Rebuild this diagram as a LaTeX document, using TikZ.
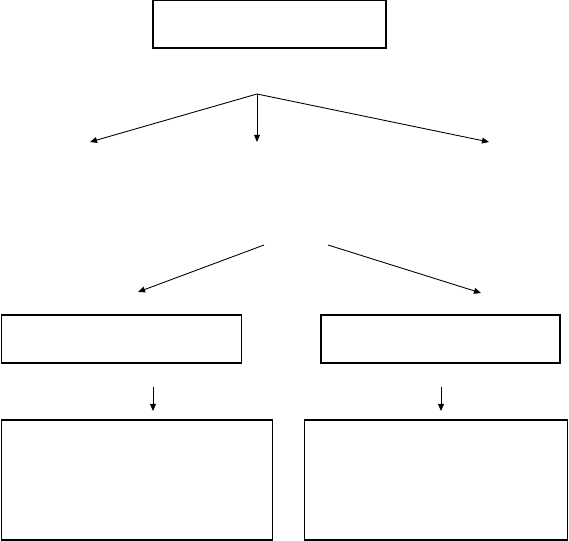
\documentclass[tikz,border=0pt]{standalone}
\usepackage{tikz}
\usetikzlibrary{positioning,arrows.meta}

\begin{document}
\begin{tikzpicture}[
  x=0.03cm,y=-0.03cm,
  box/.style={draw=black,line width=0.9pt,fill=white,inner sep=0pt,minimum width=#1},
  box/.default=7cm,
  wire/.style={line width=0.75pt,draw=black},
  >={Triangle[length=6pt,width=5pt]}]
\useasboundingbox (0,0) rectangle (569,541);
% ---- top box and fan-out
\node[box=6.99cm,minimum height=1.44cm] (top) at (269.5,24) {};
\coordinate (apex) at (257,94);
\coordinate (tipl) at (90,142);
\coordinate (tipm) at (257,142);
\coordinate (tipr) at (489,142);
\draw[wire,->] (apex) -- (tipl);
\draw[wire,->] (apex) -- (tipm);
\draw[wire,->] (apex) -- (tipr);
% ---- second split
\coordinate (sl) at (264,245); \coordinate (sle) at (138,292);
\coordinate (sr) at (328,245); \coordinate (sre) at (481,293);
\draw[wire,->] (sl) -- (sle);
\draw[wire,->] (sr) -- (sre);
% ---- middle row
\node[box=7.2cm,minimum height=1.44cm] (midl) at (121.5,339) {};
\node[box=7.17cm,minimum height=1.44cm] (midr) at (440.5,339) {};
\coordinate (al) at (153,387); \coordinate (ale) at (153,411);
\coordinate (ar) at (441,387); \coordinate (are) at (441,411);
\draw[wire,->] (al) -- (ale);
\draw[wire,->] (ar) -- (are);
% ---- bottom row
\node[box=8.13cm,minimum height=3.6cm] (botl) at (137,480) {};
\node[box=7.89cm,minimum height=3.6cm] (botr) at (436,480) {};
\end{tikzpicture}
\end{document}
